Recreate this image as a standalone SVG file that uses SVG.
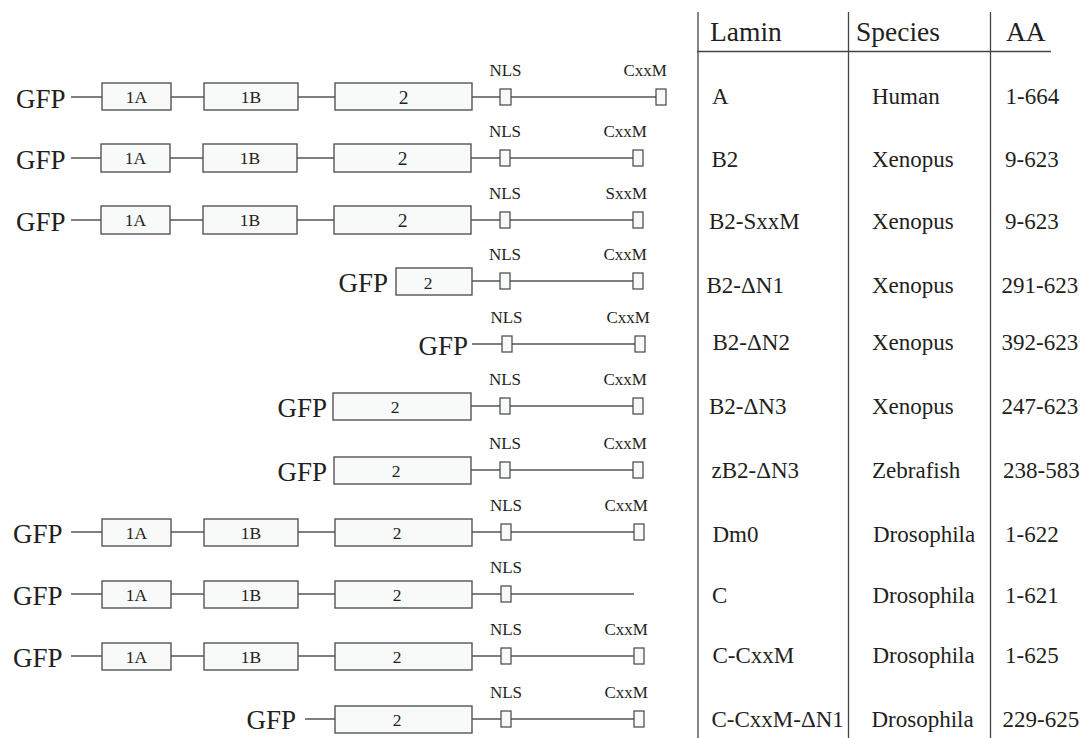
<svg xmlns="http://www.w3.org/2000/svg" width="1085" height="738" viewBox="0 0 1085 738">
<style>
text{font-family:"Liberation Serif","Times New Roman",serif;fill:#231f20}
.gfp{font-size:27px}
.lab{font-size:17px}
.dom{font-size:17.5px;text-anchor:middle}
.dom2{font-size:19.5px;text-anchor:middle}
.tb{font-size:23px}
.hd{font-size:27.5px}
.box{fill:#f8f9f9;stroke:#555;stroke-width:1.4}
.sm{fill:#f8f9f9;stroke:#444;stroke-width:1.2}
.ln{stroke:#555;stroke-width:1.3;fill:none}
.tl{stroke:#444;stroke-width:1.3;fill:none}
</style>
<rect width="1085" height="738" fill="#fff"/>
<g id="connectors">
<path class="ln" d="M71 97H102M171 97H204M298 97H335M472 97H500M511 97H656"/>
<path class="ln" d="M71 158H101M170 158H203M297 158H334M471 158H500M510 158H633"/>
<path class="ln" d="M71 220H101M170 220H203M297 220H334M471 220H500M510 220H633"/>
<path class="ln" d="M472 281H500M510 281H633"/>
<path class="ln" d="M472 344H502M512 344H635"/>
<path class="ln" d="M471 406H500M510 406H633"/>
<path class="ln" d="M471 470H500M510 470H633"/>
<path class="ln" d="M71 532H102M171 532H204M298 532H335M472 532H501M511 532H634"/>
<path class="ln" d="M71 594H102M171 594H204M298 594H335M472 594H501M511 594H634"/>
<path class="ln" d="M71 656H102M171 656H204M298 656H335M472 656H501M511 656H634"/>
<path class="ln" d="M305 719H335M472 719H501M511 719H634"/>
</g>
<g id="row1">
<text class="gfp" x="16" y="107.5">GFP</text>
<rect class="box" x="102" y="83" width="69" height="27"/><text class="dom" x="136.5" y="103">1A</text>
<rect class="box" x="204" y="83" width="94" height="27"/><text class="dom" x="251" y="103">1B</text>
<rect class="box" x="335" y="83" width="137" height="27"/><text class="dom2" x="403.5" y="104">2</text>
<rect class="sm" x="500" y="89" width="11" height="16"/><rect class="sm" x="656" y="89" width="10" height="16"/>
<text class="lab" x="505.5" y="76" text-anchor="middle">NLS</text><text class="lab" x="667" y="76" text-anchor="end">CxxM</text>
</g>
<g id="row2">
<text class="gfp" x="16" y="168.5">GFP</text>
<rect class="box" x="101" y="144" width="69" height="28"/><text class="dom" x="135.5" y="164">1A</text>
<rect class="box" x="203" y="144" width="94" height="28"/><text class="dom" x="250" y="164">1B</text>
<rect class="box" x="334" y="144" width="137" height="28"/><text class="dom2" x="402.5" y="165">2</text>
<rect class="sm" x="500" y="150" width="10" height="16"/><rect class="sm" x="633" y="150" width="10" height="16"/>
<text class="lab" x="505" y="137" text-anchor="middle">NLS</text><text class="lab" x="647" y="137" text-anchor="end">CxxM</text>
</g>
<g id="row3">
<text class="gfp" x="16" y="230.5">GFP</text>
<rect class="box" x="101" y="206" width="69" height="28"/><text class="dom" x="135.5" y="226">1A</text>
<rect class="box" x="203" y="206" width="94" height="28"/><text class="dom" x="250" y="226">1B</text>
<rect class="box" x="334" y="206" width="137" height="28"/><text class="dom2" x="402.5" y="227">2</text>
<rect class="sm" x="500" y="212" width="10" height="16"/><rect class="sm" x="633" y="212" width="10" height="16"/>
<text class="lab" x="505" y="199" text-anchor="middle">NLS</text><text class="lab" x="647" y="199" text-anchor="end">SxxM</text>
</g>
<g id="row4">
<text class="gfp" x="388" y="291.5" text-anchor="end">GFP</text>
<rect class="box" x="396" y="268" width="76" height="27"/><text class="dom" x="428" y="288.5">2</text>
<rect class="sm" x="500" y="273" width="10" height="16"/><rect class="sm" x="633" y="273" width="10" height="16"/>
<text class="lab" x="505" y="260" text-anchor="middle">NLS</text><text class="lab" x="647" y="260" text-anchor="end">CxxM</text>
</g>
<g id="row5">
<text class="gfp" x="468" y="354.5" text-anchor="end">GFP</text>
<rect class="sm" x="502" y="336" width="10" height="16"/><rect class="sm" x="635" y="336" width="10" height="16"/>
<text class="lab" x="506.5" y="323" text-anchor="middle">NLS</text><text class="lab" x="650" y="323" text-anchor="end">CxxM</text>
</g>
<g id="row6">
<text class="gfp" x="327" y="416.5" text-anchor="end">GFP</text>
<rect class="box" x="333" y="393" width="138" height="27"/><text class="dom" x="395" y="413">2</text>
<rect class="sm" x="500" y="398" width="10" height="16"/><rect class="sm" x="633" y="398" width="10" height="16"/>
<text class="lab" x="505" y="385" text-anchor="middle">NLS</text><text class="lab" x="647" y="385" text-anchor="end">CxxM</text>
</g>
<g id="row7">
<text class="gfp" x="327" y="480.5" text-anchor="end">GFP</text>
<rect class="box" x="334" y="457" width="137" height="27"/><text class="dom" x="396" y="477">2</text>
<rect class="sm" x="500" y="462" width="10" height="16"/><rect class="sm" x="633" y="462" width="10" height="16"/>
<text class="lab" x="505" y="449" text-anchor="middle">NLS</text><text class="lab" x="647" y="449" text-anchor="end">CxxM</text>
</g>
<g id="row8">
<text class="gfp" x="13" y="542.5">GFP</text>
<rect class="box" x="102" y="519" width="69" height="27"/><text class="dom" x="136.5" y="538.5">1A</text>
<rect class="box" x="204" y="519" width="94" height="27"/><text class="dom" x="251" y="538.5">1B</text>
<rect class="box" x="335" y="519" width="137" height="27"/><text class="dom" x="397" y="539">2</text>
<rect class="sm" x="501" y="524" width="10" height="16"/><rect class="sm" x="634" y="524" width="10" height="16"/>
<text class="lab" x="506" y="511" text-anchor="middle">NLS</text><text class="lab" x="648" y="511" text-anchor="end">CxxM</text>
</g>
<g id="row9">
<text class="gfp" x="13" y="604.5">GFP</text>
<rect class="box" x="102" y="581" width="69" height="27"/><text class="dom" x="136.5" y="600.5">1A</text>
<rect class="box" x="204" y="581" width="94" height="27"/><text class="dom" x="251" y="600.5">1B</text>
<rect class="box" x="335" y="581" width="137" height="27"/><text class="dom" x="397" y="601">2</text>
<rect class="sm" x="501" y="586" width="10" height="16"/>
<text class="lab" x="506" y="573" text-anchor="middle">NLS</text>
</g>
<g id="row10">
<text class="gfp" x="13" y="666.5">GFP</text>
<rect class="box" x="102" y="643" width="69" height="27"/><text class="dom" x="136.5" y="662.5">1A</text>
<rect class="box" x="204" y="643" width="94" height="27"/><text class="dom" x="251" y="662.5">1B</text>
<rect class="box" x="335" y="643" width="137" height="27"/><text class="dom" x="397" y="663">2</text>
<rect class="sm" x="501" y="648" width="10" height="16"/><rect class="sm" x="634" y="648" width="10" height="16"/>
<text class="lab" x="506" y="635" text-anchor="middle">NLS</text><text class="lab" x="648" y="635" text-anchor="end">CxxM</text>
</g>
<g id="row11">
<text class="gfp" x="296" y="729" text-anchor="end">GFP</text>
<rect class="box" x="335" y="706" width="137" height="27"/><text class="dom" x="397" y="726">2</text>
<rect class="sm" x="501" y="711" width="10" height="16"/><rect class="sm" x="634" y="711" width="10" height="16"/>
<text class="lab" x="506" y="698" text-anchor="middle">NLS</text><text class="lab" x="648" y="698" text-anchor="end">CxxM</text>
</g>
<g id="table">
<path class="tl" d="M698 12V738M848.5 12V738M990.5 12V738M697 51.5H1051"/>
<text class="hd" x="710" y="40.5">Lamin</text>
<text class="hd" x="856" y="40.5">Species</text>
<text class="hd" x="1006" y="40.5">AA</text>
<text class="tb" x="712" y="103.5">A</text><text class="tb" x="872" y="103.5">Human</text><text class="tb" x="1005.5" y="103.5">1-664</text>
<text class="tb" x="711.5" y="166.5">B2</text><text class="tb" x="872" y="166.5">Xenopus</text><text class="tb" x="1005" y="166.5">9-623</text>
<text class="tb" x="709" y="228.5">B2-SxxM</text><text class="tb" x="872" y="228.5">Xenopus</text><text class="tb" x="1005" y="228.5">9-623</text>
<text class="tb" x="706.5" y="293">B2-ΔN1</text><text class="tb" x="872" y="293">Xenopus</text><text class="tb" x="1001.5" y="293">291-623</text>
<text class="tb" x="712.5" y="350">B2-ΔN2</text><text class="tb" x="872" y="350">Xenopus</text><text class="tb" x="1001.5" y="350">392-623</text>
<text class="tb" x="709" y="414">B2-ΔN3</text><text class="tb" x="872" y="414">Xenopus</text><text class="tb" x="1001.5" y="414">247-623</text>
<text class="tb" x="711.5" y="478">zB2-ΔN3</text><text class="tb" x="872" y="478">Zebrafish</text><text class="tb" x="1003" y="478">238-583</text>
<text class="tb" x="712.5" y="541.5">Dm0</text><text class="tb" x="873" y="541.5">Drosophila</text><text class="tb" x="1005" y="541.5">1-622</text>
<text class="tb" x="712" y="602.5">C</text><text class="tb" x="872.5" y="602.5">Drosophila</text><text class="tb" x="1005" y="602.5">1-621</text>
<text class="tb" x="712.5" y="663">C-CxxM</text><text class="tb" x="872.5" y="663">Drosophila</text><text class="tb" x="1005" y="663">1-625</text>
<text class="tb" x="711.5" y="726.5">C-CxxM-ΔN1</text><text class="tb" x="871.5" y="726.5">Drosophila</text><text class="tb" x="1002.5" y="726.5">229-625</text>
</g>
</svg>
